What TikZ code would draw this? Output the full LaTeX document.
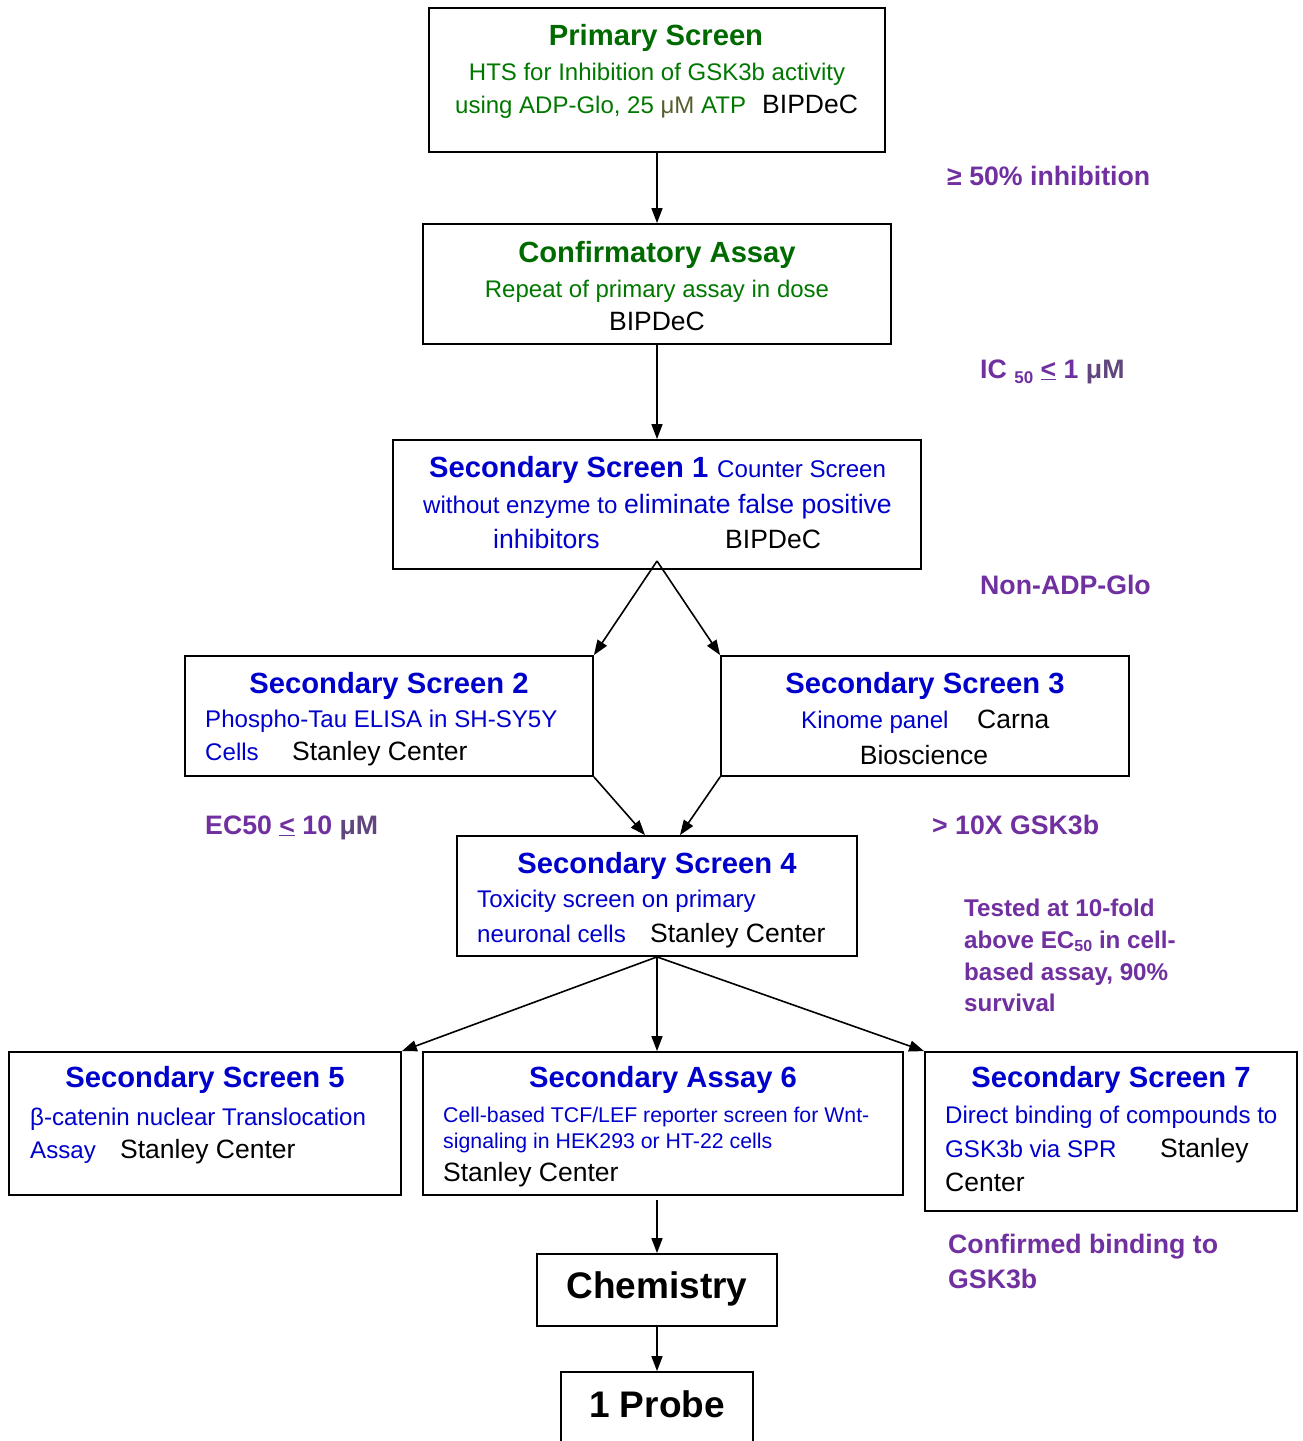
\documentclass[tikz,border=0pt]{standalone}
\usepackage{fontspec}
\setmainfont{Liberation Sans}
\usetikzlibrary{arrows.meta}
\definecolor{gt}{RGB}{0,105,0}
\definecolor{gb}{RGB}{0,120,0}
\definecolor{bl}{RGB}{0,0,204}
\definecolor{pu}{RGB}{112,48,160}
\definecolor{ol}{RGB}{85,95,45}
\definecolor{gp}{RGB}{96,70,125}
\newcommand{\fs}[1]{\fontsize{#1}{#1}\selectfont}
\begin{document}
\begin{tikzpicture}[x=1pt,y=-1pt,
  box/.style={draw=black, line width=1.8pt, inner sep=0pt},
  txt/.style={inner sep=0pt, anchor=base west},
  ctxt/.style={inner sep=0pt, anchor=base},
  ttl/.style={ctxt, font=\fs{29.2}\bfseries},
  bt/.style={txt, font=\fs{24.1}, text=bl},
  kt/.style={txt, font=\fs{26.5}, text=black},
  lab/.style={txt, font=\fs{26.7}\bfseries, text=pu},
  labs/.style={txt, font=\fs{24.2}\bfseries, text=pu},
  arr/.style={-{Triangle[length=15pt,width=11pt]}, line width=1.6pt}
]
\useasboundingbox (0,0) rectangle (1303,1441);
\fill[white] (0,0) rectangle (1303,1441);

% boxes
\node[box, minimum width=456pt, minimum height=144pt] (prim) at (657,80) {};
\node[box, minimum width=468pt, minimum height=120pt] (conf) at (657,284) {};
\node[box, minimum width=528pt, minimum height=129pt] (ss1) at (657,504.5) {};
\node[box, minimum width=408pt, minimum height=120pt] (ss2) at (389,716) {};
\node[box, minimum width=408pt, minimum height=120pt] (ss3) at (925,716) {};
\node[box, minimum width=400pt, minimum height=120pt] (ss4) at (657,896) {};
\node[box, minimum width=392pt, minimum height=143pt] (ss5) at (205,1123.5) {};
\node[box, minimum width=480pt, minimum height=143pt] (sa6) at (663,1123.5) {};
\node[box, minimum width=372pt, minimum height=159pt] (ss7) at (1111,1131.5) {};
\node[box, minimum width=240pt, minimum height=72pt] (chem) at (657,1290) {};
\node[box, minimum width=192pt, minimum height=88pt] (probe) at (657,1416) {};

% Primary
\node[ttl, text=gt] (primT) at (656,45) {Primary Screen};
\node[ctxt, font=\fs{24}, text=gb] (primL1) at (657,80) {HTS for Inhibition of GSK3b activity};
\node[txt, font=\fs{24}, text=gb] (primL2) at (455,113) {using ADP-Glo, 25 \textcolor{ol}{μM} ATP};
\node[kt] (primB) at (762,113) {BIPDeC};

% Confirmatory
\node[ttl, text=gt] (confT) at (657,262) {Confirmatory Assay};
\node[ctxt, font=\fs{24}, text=gb] (confL1) at (657,297) {Repeat of primary assay in dose};
\node[ctxt, font=\fs{26.5}] (confB) at (657,330) {BIPDeC};

% SS1
\node[txt, font=\fs{29.2}\bfseries, text=bl] (ss1T) at (429,477) {Secondary Screen 1};
\node[bt] (ss1a) at (717,477) {Counter Screen};
\node[bt] (ss1b) at (423,513) {without enzyme to};
\node[txt, font=\fs{26.6}, text=bl] (ss1c) at (624,513) {eliminate false positive};
\node[txt, font=\fs{26.6}, text=bl] (ss1d) at (493,548) {inhibitors};
\node[kt] (ss1e) at (725,548) {BIPDeC};

% SS2
\node[ttl, text=bl] (ss2T) at (389,693) {Secondary Screen 2};
\node[bt] (ss2a) at (205,727) {Phospho-Tau ELISA in SH-SY5Y};
\node[bt] (ss2b) at (205,760) {Cells};
\node[kt] (ss2c) at (292,760) {Stanley Center};

% SS3
\node[ttl, text=bl] (ss3T) at (925,693) {Secondary Screen 3};
\node[bt] (ss3a) at (801,728) {Kinome panel};
\node[kt] (ss3b) at (977,728) {Carna};
\node[ctxt, font=\fs{26.5}] (ss3c) at (924,764) {Bioscience};

% SS4
\node[ttl, text=bl] (ss4T) at (657,873) {Secondary Screen 4};
\node[bt] (ss4a) at (477,907) {Toxicity screen on primary};
\node[bt] (ss4b) at (477,942) {neuronal cells};
\node[kt] (ss4c) at (650,942) {Stanley Center};

% SS5
\node[ttl, text=bl] (ss5T) at (205,1087) {Secondary Screen 5};
\node[bt] (ss5a) at (30,1125) {β-catenin nuclear Translocation};
\node[bt] (ss5b) at (30,1158) {Assay};
\node[kt] (ss5c) at (120,1158) {Stanley Center};

% SA6
\node[ttl, text=bl] (sa6T) at (663,1087) {Secondary Assay 6};
\node[txt, font=\fs{21.3}, text=bl] (sa6a) at (443,1122) {Cell-based TCF/LEF reporter screen for Wnt-};
\node[txt, font=\fs{21.3}, text=bl] (sa6b) at (443,1148) {signaling in HEK293 or HT-22 cells};
\node[kt] (sa6c) at (443,1181) {Stanley Center};

% SS7
\node[ttl, text=bl] (ss7T) at (1111,1087) {Secondary Screen 7};
\node[bt] (ss7a) at (945,1123) {Direct binding of compounds to};
\node[bt] (ss7b) at (945,1157) {GSK3b via SPR};
\node[kt] (ss7c) at (1160,1157) {Stanley};
\node[kt] (ss7d) at (945,1191) {Center};

% Chemistry & Probe
\node[ctxt, font=\fs{37}\bfseries] (chemT) at (657,1298) {Chemistry};
\node[ctxt, font=\fs{37}\bfseries] (probeT) at (657,1417) {1 Probe};

% purple labels
\node[lab] (l1) at (947,185) {≥ 50\% inhibition};
\node[lab] (l2) at (980,378) {IC {\fs{17}\raisebox{-5pt}{50}} \underline{<} 1 \textcolor{gp}{μM}};
\node[lab] (l3) at (980,594) {Non-ADP-Glo};
\node[lab] (l4) at (205,834) {EC50 \underline{<} 10 \textcolor{gp}{μM}};
\node[lab] (l5) at (932,834) {> 10X GSK3b};
\node[labs] (l6a) at (964,916) {Tested at 10-fold};
\node[labs] (l6b) at (964,948) {above EC{\fs{16}\raisebox{-3pt}{50}} in cell-};
\node[labs] (l6c) at (964,980) {based assay, 90\%};
\node[labs] (l6d) at (964,1011) {survival};
\node[lab] (l7a) at (948,1253) {Confirmed binding to};
\node[lab] (l7b) at (948,1288) {GSK3b};

% connectors
\coordinate (apex) at (657,561);
\coordinate (c6) at (657,1200);
\draw[arr] (prim.south) -- (conf.north);
\draw[arr] (conf.south) -- (ss1.north);
\draw[arr] (apex) -- (ss2.north east);
\draw[arr] (apex) -- (ss3.north west);
\draw[arr] (ss2.south east) -- ([xshift=-12pt]ss4.north);
\draw[arr] (ss3.south west) -- ([xshift=23pt]ss4.north);
\draw[arr] (ss4.south) -- (ss5.north east);
\draw[arr] (ss4.south) -- (ss4.south |- sa6.north);
\draw[arr] (ss4.south) -- (ss7.north west);
\draw[arr] (c6) -- (chem.north);
\draw[arr] (chem.south) -- (probe.north);
\end{tikzpicture}
\end{document}
